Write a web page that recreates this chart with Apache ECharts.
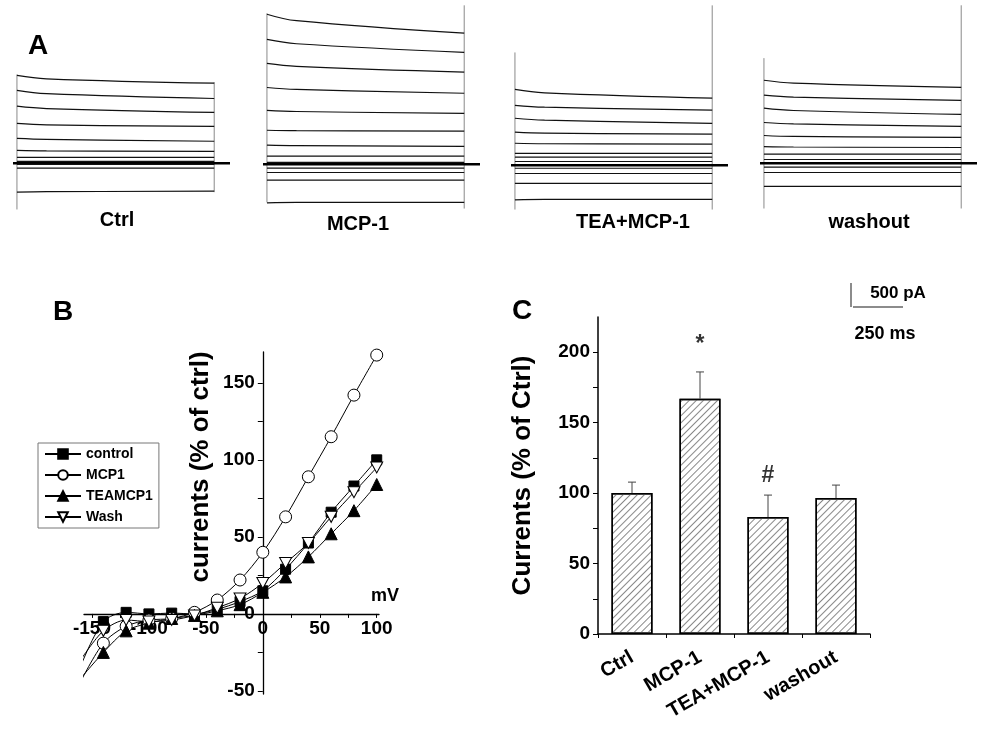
<!DOCTYPE html>
<html>
<head>
<meta charset="utf-8">
<script src="https://cdn.jsdelivr.net/npm/echarts@6/dist/echarts.min.js"></script>
<style>
html, body { margin: 0; background: #fff; }
#chart { width: 986px; height: 729px; }
</style>
</head>
<body>
<div id="chart"></div>
<script>
// ---- A: current traces (pA vs holding), read at 0, 150 and 1000 ms of the step
const traceTimes = [0, 150, 1000];
const ctrlTraces = [
  [1830, 1760, 1670], [1520, 1450, 1350], [1190, 1140, 1060], [830, 800, 770],
  [520, 500, 460], [270, 260, 250], [125, 125, 125], [40, 40, 40],
  [-20, -20, -20], [-100, -100, -100], [-600, -590, -580]
];
const mcpTraces = [
  [3125, 2990, 2730], [2600, 2510, 2330], [2100, 2040, 1920], [1600, 1560, 1480],
  [1125, 1100, 1060], [710, 700, 690], [400, 390, 375], [170, 170, 170],
  [40, 40, 40], [-80, -80, -80], [-170, -170, -170], [-330, -330, -330], [-800, -790, -790]
];
const teaTraces = [
  [1580, 1510, 1400], [1250, 1210, 1150], [980, 940, 875], [690, 670, 650],
  [460, 450, 440], [250, 250, 250], [170, 170, 170], [80, 80, 80],
  [-60, -60, -60], [-170, -170, -170], [-375, -375, -375], [-720, -710, -710]
];
const washTraces = [
  [1730, 1670, 1580], [1420, 1380, 1310], [1150, 1100, 1020], [850, 820, 770],
  [580, 560, 540], [350, 340, 330], [190, 190, 190], [80, 80, 80],
  [-80, -80, -80], [-190, -190, -190], [-480, -480, -480]
];
// capacitive spikes at step on / step off: [low, high] in pA
const ctrlSpikes = [[-960, 1850], [-600, 1690]];
const mcpSpikes = [[-790, 3145], [-920, 3310]];
const teaSpikes = [[-920, 2350], [-920, 3330]];
const washSpikes = [[-940, 2190], [-940, 3290]];
const traceNames = ['Ctrl', 'MCP-1', 'TEA+MCP-1', 'washout'];

// ---- B: I-V relation
const ivVoltages = [-160, -140, -120, -100, -80, -60, -40, -20, 0, 20, 40, 60, 80, 100];
const ivControl = [-34, -5, 1, 0, 0.5, 0, 3, 8, 15, 29, 46, 66, 83, 100];
const ivMcp1 = [-44, -19, -8, -4, -3, 1, 9, 22, 40, 63, 89, 115, 142, 168];
const ivTeaMcp1 = [-42, -25, -11, -6, -3, -1, 2, 6, 14, 24, 37, 52, 67, 84];
const ivWash = [-30, -11, -4, -5, -4, -1, 4, 10, 20, 33, 46, 63, 79, 95];
const ivXTicks = [-150, -100, -50, 0, 50, 100];
const ivYTicks = [-50, 0, 50, 100, 150];

// ---- C: summary bars
const barCategories = ['Ctrl', 'MCP-1', 'TEA+MCP-1', 'washout'];
const barValues = [100, 167, 83, 96.5];
const barErrors = [7.8, 19, 15.6, 9.2];
const barMarks = ['', '*', '#', ''];
const barYTicks = [0, 50, 100, 150, 200];

const FONT = '"Liberation Sans", Arial, sans-serif';
const chart = echarts.init(document.getElementById('chart'));

const grids = [], xAxes = [], yAxes = [], series = [];

// trace panels
const panelLeft = [13, 263, 511, 760];
const panelTop = [0, 1, 2, 0];
const panelTraces = [ctrlTraces, mcpTraces, teaTraces, washTraces];
const panelSpikes = [ctrlSpikes, mcpSpikes, teaSpikes, washSpikes];

panelTraces.forEach((traces, p) => {
  grids.push({ left: panelLeft[p], top: panelTop[p], width: 217, height: 221 });
  xAxes.push({ gridIndex: p, type: 'value', min: -20, max: 1080, show: false });
  yAxes.push({ gridIndex: p, type: 'value', min: -1200, max: 3400, show: false });
  const common = { type: 'line', xAxisIndex: p, yAxisIndex: p, symbol: 'none', silent: true };
  // spikes
  panelSpikes[p].forEach((s, k) => {
    const t = k === 0 ? 0 : 1000;
    series.push(Object.assign({}, common, {
      data: [[t, s[0]], [t, s[1]]],
      lineStyle: { color: '#8a8a8a', width: 1 }
    }));
  });
  // holding level
  series.push(Object.assign({}, common, {
    data: [[-20, 0], [1080, 0]],
    lineStyle: { color: '#000', width: 2.5 }
  }));
  traces.forEach(tr => {
    series.push(Object.assign({}, common, {
      data: traceTimes.map((t, i) => [t, tr[i]]),
      smooth: 0.4,
      lineStyle: { color: '#111', width: 1.2 }
    }));
  });
});

// B grid: axes cross at the origin (shifted with offset so labels follow)
const bX = { min: -157, max: 102 }, bY = { min: -52, max: 170 };
const bBox = { left: 84, top: 352, width: 295, height: 342 };
grids.push(bBox);
xAxes.push({
  gridIndex: 4, type: 'value', min: bX.min, max: bX.max,
  offset: -(0 - bY.min) / (bY.max - bY.min) * bBox.height,
  splitLine: { show: false },
  axisLine: { onZero: false, lineStyle: { color: '#000', width: 1.3 } },
  axisTick: { show: true, length: 4, customValues: [-150, -125, -100, -75, -50, -25, 0, 25, 50, 75, 100], lineStyle: { color: '#000' } },
  axisLabel: { customValues: ivXTicks, color: '#000', fontSize: 19, fontWeight: 'bold', fontFamily: FONT, margin: 5 }
});
yAxes.push({
  gridIndex: 4, type: 'value', min: bY.min, max: bY.max,
  offset: -(0 - bX.min) / (bX.max - bX.min) * bBox.width,
  splitLine: { show: false },
  axisLine: { show: true, onZero: false, lineStyle: { color: '#000', width: 1.3 } },
  axisTick: { show: true, length: 5, customValues: [-50, -25, 0, 25, 50, 75, 100, 125, 150], lineStyle: { color: '#000' } },
  axisLabel: { customValues: ivYTicks, color: '#000', fontSize: 19, fontWeight: 'bold', fontFamily: FONT, margin: 8 }
});

const ivSeries = [
  { name: 'control', data: ivControl, symbol: 'rect', size: 10, fill: '#000' },
  { name: 'MCP1', data: ivMcp1, symbol: 'circle', size: 12, fill: '#fff' },
  { name: 'TEAMCP1', data: ivTeaMcp1, symbol: 'triangle', size: 12, fill: '#000' },
  { name: 'Wash', data: ivWash, symbol: 'path://M0,0L10,0L5,9Z', size: [12, 11], fill: '#fff' }
];
ivSeries.forEach(s => {
  series.push({
    name: s.name, type: 'line', xAxisIndex: 4, yAxisIndex: 4,
    data: ivVoltages.map((v, i) => [v, s.data[i]]),
    symbol: s.symbol, symbolSize: s.size, smooth: 0.3, clip: true,
    itemStyle: { color: s.fill, borderColor: '#000', borderWidth: 1 },
    lineStyle: { color: '#000', width: 1 },
    z: 3
  });
});

// C grid
grids.push({ left: 598, top: 317, width: 272, height: 317 });
xAxes.push({
  gridIndex: 5, type: 'category', data: barCategories,
  axisLine: { lineStyle: { color: '#000', width: 1.5 } },
  axisTick: { show: true, length: 4, lineStyle: { color: '#000' } },
  axisLabel: { rotate: 30, interval: 0, color: '#000', fontSize: 20, fontWeight: 'bold', fontFamily: FONT, margin: 22 }
});
yAxes.push({
  gridIndex: 5, type: 'value', min: 0, max: 225,
  splitLine: { show: false },
  axisLine: { show: true, lineStyle: { color: '#000', width: 1.5 } },
  axisTick: { show: true, length: 5, customValues: [0, 25, 50, 75, 100, 125, 150, 175, 200], lineStyle: { color: '#000' } },
  axisLabel: { customValues: barYTicks, color: '#000', fontSize: 19, fontWeight: 'bold', fontFamily: FONT, margin: 8 },
  name: 'Currents (% of Ctrl)', nameLocation: 'middle', nameGap: 62,
  nameTextStyle: { color: '#000', fontSize: 26, fontWeight: 'bold', fontFamily: FONT }
});

series.push({
  type: 'bar', xAxisIndex: 5, yAxisIndex: 5, data: barValues, barWidth: 41,
  itemStyle: {
    color: '#fff', borderColor: '#000', borderWidth: 1.5,
    decal: {
      symbol: 'rect', symbolSize: 1, color: '#888', backgroundColor: null,
      dashArrayX: [1, 0], dashArrayY: [1, 4], rotation: -Math.PI / 4
    }
  }
});
series.push({
  type: 'custom', xAxisIndex: 5, yAxisIndex: 5,
  data: barValues.map((v, i) => [i, v, v + barErrors[i]]),
  encode: { x: 0, y: [1, 2] },
  renderItem: (params, api) => {
    const base = api.coord([api.value(0), api.value(1)]);
    const top = api.coord([api.value(0), api.value(2)]);
    const style = { stroke: '#444', lineWidth: 1 };
    return {
      type: 'group', children: [
        { type: 'line', shape: { x1: base[0], y1: base[1], x2: top[0], y2: top[1] }, style },
        { type: 'line', shape: { x1: top[0] - 4, y1: top[1], x2: top[0] + 4, y2: top[1] }, style }
      ]
    };
  },
  z: 4
});
series.push({
  type: 'scatter', xAxisIndex: 5, yAxisIndex: 5, symbolSize: 0,
  data: barMarks.map((m, i) => ({
    value: [i, barValues[i] + barErrors[i]],
    label: { show: m !== '', formatter: m, position: 'top', distance: m === '*' ? 16 : 8 }
  })),
  label: { color: '#000', fontSize: 23, fontWeight: 'bold', fontFamily: FONT }
});

const txt = (text, x, y, size, extra) => Object.assign({
  type: 'text', x, y,
  style: { text, fill: '#000', font: 'bold ' + size + 'px ' + FONT, align: 'center', verticalAlign: 'middle' }
}, extra || {});

const graphics = [
  txt('A', 38, 46, 28),
  txt('B', 63, 312, 28),
  txt('C', 522, 311, 28),
  txt('mV', 385, 596, 18),
  txt('currents (% of ctrl)', 201, 467, 26, { rotation: Math.PI / 2 }),
  txt('500 pA', 898, 293, 17),
  txt('250 ms', 885, 334, 18),
  { type: 'line', shape: { x1: 851, y1: 283, x2: 851, y2: 307 }, style: { stroke: '#666', lineWidth: 1.5 } },
  { type: 'line', shape: { x1: 853, y1: 307, x2: 903, y2: 307 }, style: { stroke: '#666', lineWidth: 1.5 } }
];
const nameX = [117, 358, 633, 869];
const nameY = [220, 224, 222, 222];
traceNames.forEach((n, i) => graphics.push(txt(n, nameX[i], nameY[i], 20)));

chart.setOption({
  animation: false,
  backgroundColor: '#fff',
  textStyle: { fontFamily: FONT },
  grid: grids,
  xAxis: xAxes,
  yAxis: yAxes,
  legend: {
    data: ['control', 'MCP1', 'TEAMCP1', 'Wash'],
    orient: 'vertical', left: 38, top: 443,
    itemWidth: 36, itemHeight: 12, itemGap: 7,
    padding: [4, 6, 4, 6],
    borderColor: '#777', borderWidth: 1,
    selectedMode: false,
    textStyle: { color: '#000', fontSize: 14, fontWeight: 'bold', fontFamily: FONT }
  },
  graphic: graphics,
  series: series
});
</script>
</body>
</html>
